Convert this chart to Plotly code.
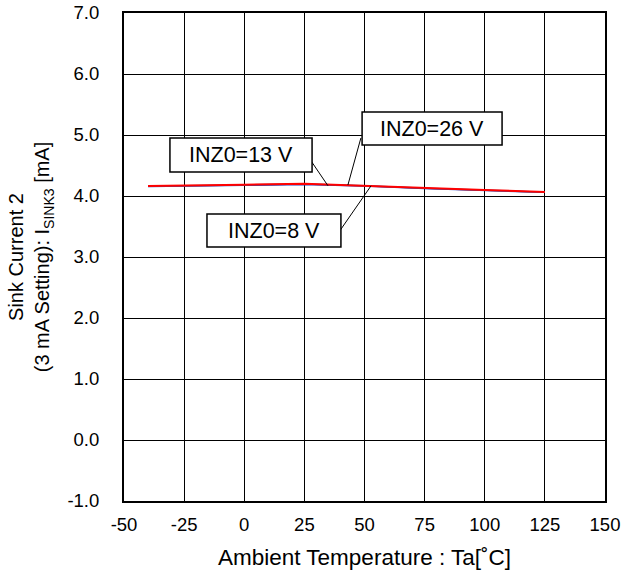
import plotly.graph_objects as go

temps = [-40, -25, 0, 25, 50, 75, 100, 125]
i_8v = [4.155, 4.16, 4.175, 4.19, 4.165, 4.125, 4.095, 4.06]
i_13v = [4.16, 4.165, 4.18, 4.195, 4.168, 4.128, 4.098, 4.063]
i_26v = [4.165, 4.17, 4.185, 4.2, 4.17, 4.13, 4.1, 4.065]

x_ticks = [-50, -25, 0, 25, 50, 75, 100, 125, 150]
x_tick_labels = ["-50", "-25", "0", "25", "50", "75", "100", "125", "150"]
y_ticks = [-1, 0, 1, 2, 3, 4, 5, 6, 7]
y_tick_labels = ["-1.0", "0.0", "1.0", "2.0", "3.0", "4.0", "5.0", "6.0", "7.0"]

FONT = "Liberation Sans, Arial, sans-serif"

fig = go.Figure()
fig.add_trace(go.Scatter(x=temps, y=i_8v, mode="lines", name="INZ0=8 V",
                         line=dict(color="#2040c0", width=1.5)))
fig.add_trace(go.Scatter(x=temps, y=i_13v, mode="lines", name="INZ0=13 V",
                         line=dict(color="#3060a0", width=1.5)))
fig.add_trace(go.Scatter(x=temps, y=i_26v, mode="lines", name="INZ0=26 V",
                         line=dict(color="#ff0000", width=2)))

# label boxes: (text, box x0, x1, y0, y1, leader from, leader to)
labels = [
    ("INZ0=13 V", -30.9, 28.2, 4.393, 4.951, (27.8, 4.574), (34.8, 4.168)),
    ("INZ0=26 V", 49.0, 107.2, 4.836, 5.377, (48.5, 4.951), (43.1, 4.18)),
    ("INZ0=8 V", -15.5, 40.2, 3.164, 3.705, (39.4, 3.41), (52.7, 4.166)),
]
shapes = []
annotations = []
for text, x0, x1, y0, y1, p0, p1 in labels:
    shapes.append(dict(type="line", xref="x", yref="y", x0=p0[0], y0=p0[1], x1=p1[0], y1=p1[1],
                       line=dict(color="black", width=1)))
    shapes.append(dict(type="rect", xref="x", yref="y", x0=x0, x1=x1, y0=y0, y1=y1,
                       fillcolor="white", line=dict(color="black", width=1.5)))
    annotations.append(dict(x=(x0 + x1) / 2, y=(y0 + y1) / 2, xref="x", yref="y", text=text,
                            showarrow=False, font=dict(family=FONT, size=21.5, color="black")))

fig.update_layout(
    width=625, height=574,
    margin=dict(l=124, r=20, t=13, b=73),
    paper_bgcolor="white", plot_bgcolor="white",
    showlegend=False,
    font=dict(family=FONT, size=18.5, color="black"),
    shapes=shapes, annotations=annotations,
    xaxis=dict(range=[-50, 150], tickvals=x_ticks, ticktext=x_tick_labels, showgrid=True,
               gridcolor="black", gridwidth=1, automargin=False,
               showline=True, linecolor="black", linewidth=2, mirror=True, ticks="",
               zeroline=False, ticklabelstandoff=6,
               title=dict(text="Ambient Temperature : Ta[˚C]", font=dict(size=22.5), standoff=15)),
    yaxis=dict(range=[-1, 7], tickvals=y_ticks, ticktext=y_tick_labels, showgrid=True,
               gridcolor="black", automargin=False,
               gridwidth=1, showline=True, linecolor="black", linewidth=2, mirror=True, ticks="",
               zeroline=False, ticklabelstandoff=19,
               title=dict(text="Sink Current 2<br>(3 mA Setting): I<sub>SINK3</sub> [mA]",
                          font=dict(size=20), standoff=12)),
)

# remove the browser's default 8px body margin so the figure fills the window exactly
fig.write_html("out.html", config={"displayModeBar": False},
               post_script="document.body.style.margin='0';")
